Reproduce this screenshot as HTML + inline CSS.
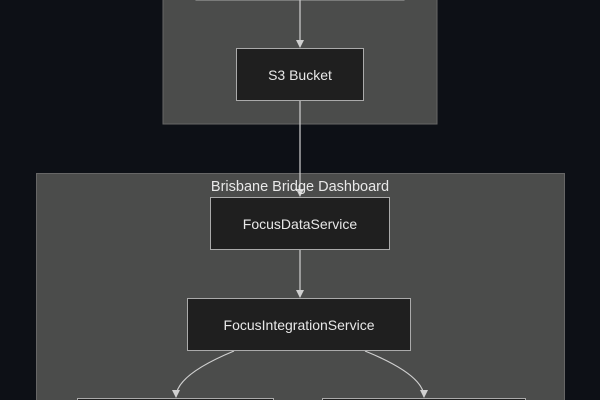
<!DOCTYPE html>
<html><head><style>
html,body{margin:0;padding:0;background:#0d1016;width:600px;height:400px;overflow:hidden}
svg{display:block}
</style></head><body>
<svg width="600" height="400" viewBox="0 0 600 400" xmlns="http://www.w3.org/2000/svg" font-family="'Liberation Sans', sans-serif">
<defs><marker id="a" markerWidth="8" markerHeight="8" refX="7" refY="4" orient="auto" markerUnits="userSpaceOnUse"><path d="M0,0 L8,4 L0,8 z" fill="#d0d0d0"/></marker></defs>
<rect x="0" y="0" width="600" height="400" fill="#0d1016"/>
<rect x="163" y="-5" width="274" height="129" fill="#4b4c4b" stroke="#666" stroke-width="1"/>
<rect x="196" y="-20" width="208" height="20" fill="#1f1f1f" stroke="#aaa"/>
<rect x="36.5" y="173.5" width="528" height="230" fill="#4b4c4b" stroke="#666" stroke-width="1"/>
<line x1="300" y1="0" x2="300" y2="47" stroke="#d0d0d0" stroke-width="1.2" marker-end="url(#a)"/>
<line x1="300" y1="100" x2="300" y2="196" stroke="#d0d0d0" stroke-width="1.2" marker-end="url(#a)"/>
<line x1="300" y1="250" x2="300" y2="297" stroke="#d0d0d0" stroke-width="1.2" marker-end="url(#a)"/>
<path d="M234,351 Q176,375 176,397" fill="none" stroke="#d0d0d0" stroke-width="1.2" marker-end="url(#a)"/>
<path d="M365,351 Q424,375 424,397" fill="none" stroke="#d0d0d0" stroke-width="1.2" marker-end="url(#a)"/>
<rect x="236.5" y="48.5" width="127" height="52" fill="#1f1f1f" stroke="#aaa"/>
<text x="300" y="80" fill="#e8e8e8" font-size="14" text-anchor="middle">S3 Bucket</text>
<text x="300" y="191" fill="#e8e8e8" font-size="14.5" text-anchor="middle">Brisbane Bridge Dashboard</text>
<rect x="210.5" y="197.5" width="179" height="52" fill="#1f1f1f" stroke="#aaa"/>
<text x="300" y="229" fill="#e8e8e8" font-size="14" text-anchor="middle">FocusDataService</text>
<rect x="187.5" y="298.5" width="223" height="52" fill="#1f1f1f" stroke="#aaa"/>
<text x="299" y="330" fill="#e8e8e8" font-size="14" text-anchor="middle">FocusIntegrationService</text>
<rect x="77.5" y="398.5" width="196" height="10" fill="#1f1f1f" stroke="#aaa"/>
<rect x="322.5" y="398.5" width="203" height="10" fill="#1f1f1f" stroke="#aaa"/>
</svg>
</body></html>
